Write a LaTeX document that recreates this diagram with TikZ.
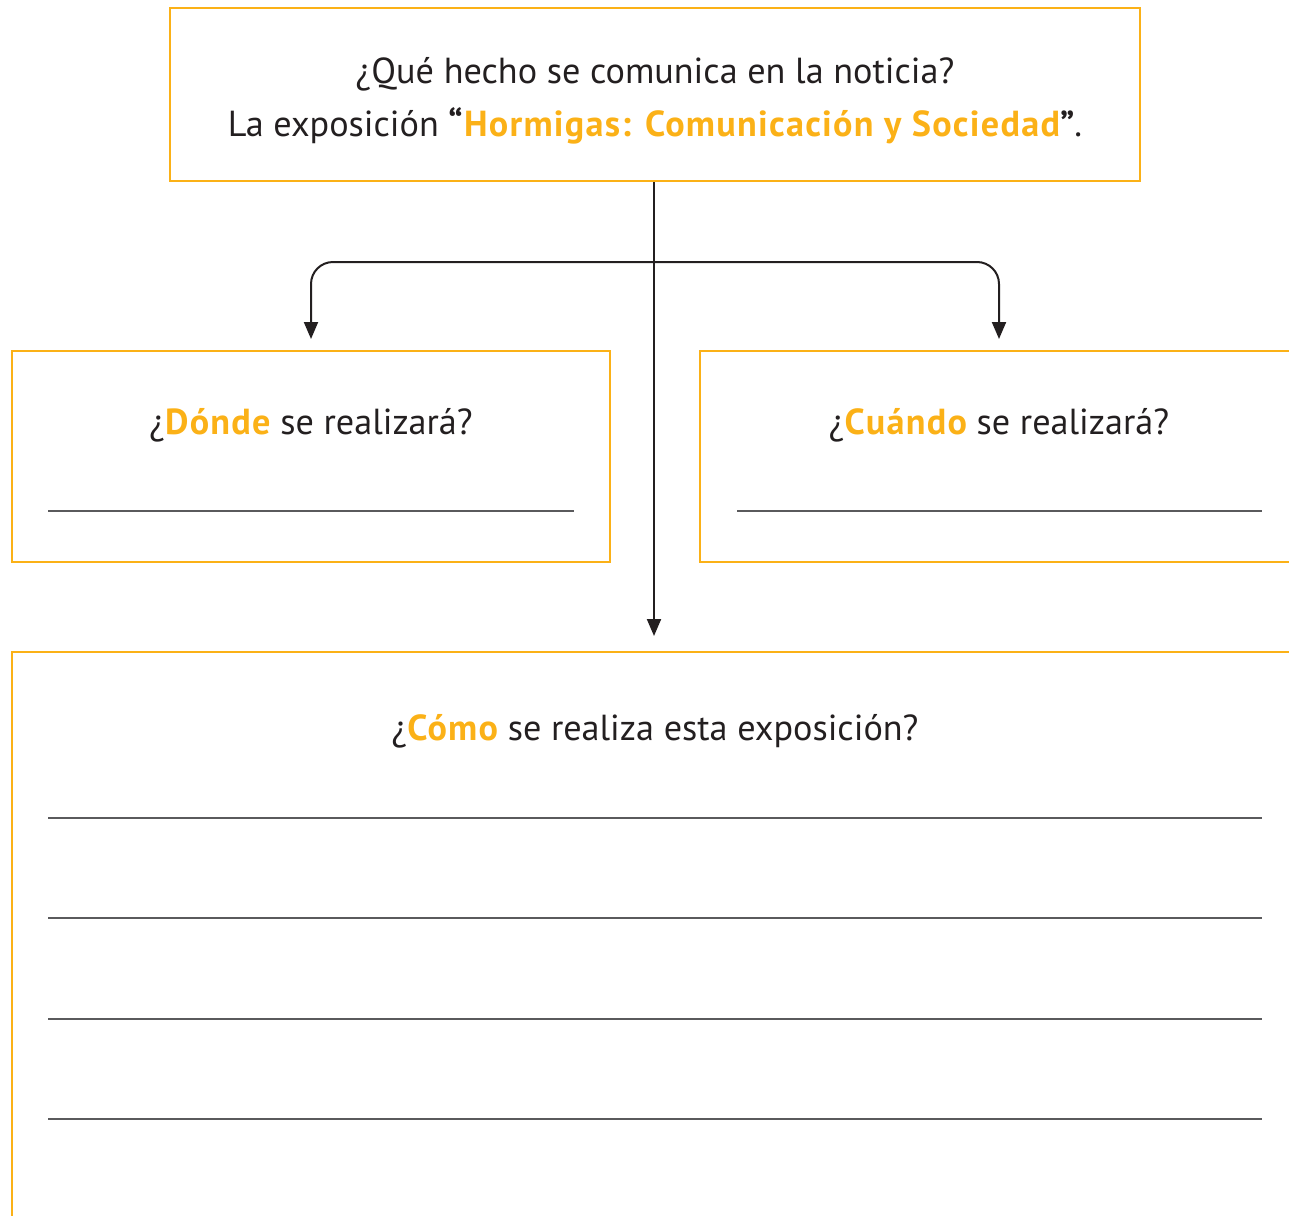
\documentclass[tikz,border=0pt]{standalone}
\usepackage{fontspec}
\setmainfont{PT Sans}[BoldFeatures={LetterSpace=3.5}]
\usepackage{xcolor}
\usetikzlibrary{arrows.meta,positioning}
\definecolor{antOrange}{HTML}{FBB117}
\definecolor{inkDark}{HTML}{231F20}
\definecolor{ruleGray}{HTML}{5A5A5C}
\tikzset{
  framebox/.style={
    rectangle, draw=antOrange, line width=1pt, inner sep=0pt,
  },
  question/.style={
    anchor=base, inner sep=0pt, text=inkDark,
    font=\fontsize{18.1}{22}\selectfont,
  },
  arrowMed/.style={
    -{Triangle[length=8.5pt,width=7pt]}, line width=1pt, draw=inkDark,
  },
  writeline/.style={line width=0.6pt, draw=ruleGray},
}
\newcommand{\hl}[1]{\textbf{\textcolor{antOrange}{#1}}}

\begin{document}
\begin{tikzpicture}[x=0.5pt,y=-0.5pt]
\useasboundingbox (0,0) rectangle (1289,1215);
\clip (0,0) rectangle (1289,1215);
% boxes
\node[framebox, minimum width=485pt, minimum height=86.5pt] (hecho) at (655,94.5) {};
\node[framebox, minimum width=299pt, minimum height=105.5pt] (donde) at (311,456.5) {};
\node[framebox, minimum width=299pt, minimum height=105.5pt] (cuando) at (999,456.5) {};
\node[framebox, minimum width=643pt, minimum height=294pt] (como) at (655,946) {};
% questions
\node[question] (hechoQ) at (655,83) {¿Qué hecho se comunica en la noticia?};
\node[question] (hechoA) at (655,136) {La exposición \textbf{“\hl{Hormigas: Comunicación y Sociedad}”}.};
\node[question] (dondeQ) at (311,434) {¿\hl{Dónde} se realizará?};
\node[question] (cuandoQ) at (999,434) {¿\hl{Cuándo} se realizará?};
\node[question] (comoQ) at (655,740) {¿\hl{Cómo} se realiza esta exposición?};
% connectors
\coordinate (fork) at (654,262);
\draw[arrowMed, shorten >=7.5pt] (hecho.south -| fork) -- (como.north -| fork);
\draw[arrowMed, rounded corners=11pt, shorten >=5.5pt] (fork) -| (donde.north);
\draw[arrowMed, rounded corners=11pt, shorten >=5.5pt] (fork) -| (cuando.north);
% lines to write on
\draw[writeline] (48,511) -- (574,511);
\draw[writeline] (737,511) -- (1262,511);
\foreach \y in {818,918,1019,1119}
  \draw[writeline] (48,\y) -- (1262,\y);
\end{tikzpicture}
\end{document}
